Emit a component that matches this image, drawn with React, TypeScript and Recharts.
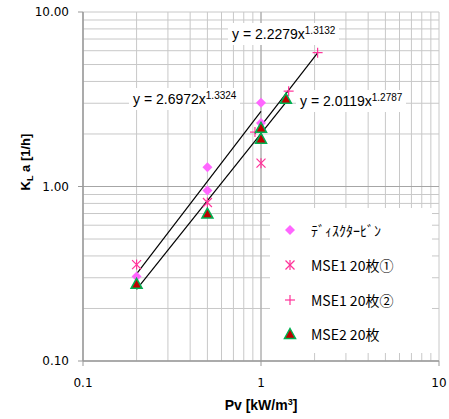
import React from 'react';
import {
  ScatterChart,
  Scatter,
  XAxis,
  YAxis,
  CartesianGrid,
  Legend,
  ReferenceLine,
} from 'recharts';

// tick values (log axes with minor gridlines)
const logTicks = [0.1, 0.2, 0.3, 0.4, 0.5, 0.6, 0.7, 0.8, 0.9, 1, 2, 3, 4, 5, 6, 7, 8, 9, 10];
const xTickLabels: Record<number, string> = { 0.1: '0.1', 1: '1', 10: '10' };
const yTickLabels: Record<number, string> = { 0.1: '0.10', 1: '1.00', 10: '10.00' };

// series values
const discX = [0.2, 0.5, 0.5, 1.0, 1.0];
const discY = [0.305, 1.29, 0.95, 3.02, 2.31];
const mse1aX = [0.2, 0.5, 1.0];
const mse1aY = [0.357, 0.81, 1.36];
const mse1bX = [0.925, 1.43, 2.08];
const mse1bY = [2.05, 3.52, 5.85];
const mse2X = [0.2, 0.5, 1.0, 1.0, 1.38];
const mse2Y = [0.277, 0.7, 2.17, 1.88, 3.18];

// power trendlines y = a x^b shown on the chart
const trendA = [2.6972, 2.2279, 2.0119];
const trendB = [1.3324, 1.3132, 1.2787];
const trendFrom = [0.2, 0.925, 0.2];
const trendTo = [1.0, 2.08, 1.38];

const toPoints = (xs: number[], ys: number[]) => xs.map((x, i) => ({ x, y: ys[i] }));

const trendData = trendA.map((a, i) =>
  [trendFrom[i], trendTo[i]].map((x) => ({ x, y: a * Math.pow(x, trendB[i]) }))
);

const DISC = '#FF66FF';
const PINK = '#FF3399';

const Diamond = ({ cx, cy }: any) => (
  <polygon points={`${cx},${cy - 5} ${cx + 5},${cy} ${cx},${cy + 5} ${cx - 5},${cy}`} fill={DISC} />
);
const Star = ({ cx, cy }: any) => (
  <g stroke={PINK} strokeWidth={1.2}>
    <line x1={cx - 4.5} y1={cy - 4.5} x2={cx + 4.5} y2={cy + 4.5} />
    <line x1={cx - 4.5} y1={cy + 4.5} x2={cx + 4.5} y2={cy - 4.5} />
    <line x1={cx} y1={cy - 5} x2={cx} y2={cy + 5} />
  </g>
);
const Plus = ({ cx, cy }: any) => (
  <g stroke={PINK} strokeWidth={1.2}>
    <line x1={cx - 5} y1={cy} x2={cx + 5} y2={cy} />
    <line x1={cx} y1={cy - 5} x2={cx} y2={cy + 5} />
  </g>
);
const Triangle = ({ cx, cy }: any) => (
  <polygon
    points={`${cx},${cy - 5.5} ${cx + 5.5},${cy + 4.5} ${cx - 5.5},${cy + 4.5}`}
    fill="#C00000"
    stroke="#00B050"
    strokeWidth={1.5}
  />
);
const NoDot = () => <g />;

const legendItems = [
  { name: 'ﾃﾞｨｽｸﾀｰﾋﾞﾝ', Shape: Diamond },
  { name: 'MSE1 20枚①', Shape: Star },
  { name: 'MSE1 20枚②', Shape: Plus },
  { name: 'MSE2 20枚', Shape: Triangle },
];

const LegendBox = () => (
  <div style={{ background: '#fff', width: 162, height: 145, paddingTop: 5, boxSizing: 'border-box' }}>
    {legendItems.map(({ name, Shape }) => (
      <div key={name} style={{ display: 'flex', alignItems: 'center', height: 34.7 }}>
        <svg width={34} height={20} style={{ marginLeft: 3 }}>
          <Shape cx={17} cy={10} />
        </svg>
        <span
          style={{
            fontFamily: '"Noto Sans CJK JP", sans-serif',
            fontSize: 14,
            color: '#000',
            marginLeft: 4,
            whiteSpace: 'nowrap',
          }}
        >
          {name}
        </span>
      </div>
    ))}
  </div>
);

const XTick = ({ x, y, payload }: any) => {
  const label = xTickLabels[payload.value];
  if (!label) return <g />;
  return (
    <g>
      <line x1={x} x2={x} y1={y - 17} y2={y - 12} stroke="#999" />
      <text x={x} y={y} dy="0.71em" textAnchor="middle" fontSize={12} fill="#000" fontFamily="'DejaVu Sans', Verdana, sans-serif">
        {label}
      </text>
    </g>
  );
};

const YTick = ({ x, y, payload }: any) => {
  const label = yTickLabels[payload.value];
  if (!label) return <g />;
  return (
    <g>
      <line x1={x + 9} x2={x + 14} y1={y} y2={y} stroke="#999" />
      <text x={x} y={y} dy="0.355em" textAnchor="end" fontSize={12} fill="#000" fontFamily="'DejaVu Sans', Verdana, sans-serif">
        {label}
      </text>
    </g>
  );
};

const eqStyle: React.CSSProperties = {
  position: 'absolute',
  background: '#fff',
  fontFamily: '"Liberation Sans", Arial, sans-serif',
  fontSize: 14,
  lineHeight: '16px',
  padding: '3px 4px',
  whiteSpace: 'nowrap',
  color: '#000',
};

const Equation = ({ a, b, left, top }: { a: number; b: number; left: number; top: number }) => (
  <div style={{ ...eqStyle, left, top }}>
    y = {a.toFixed(4)}x<sup style={{ fontSize: 10, verticalAlign: 'top', lineHeight: '10px' }}>{b.toFixed(4)}</sup>
  </div>
);

export default function App() {
  return (
    <div style={{ position: 'absolute', left: 0, top: 0, width: 449, height: 419, background: '#fff' }}>
      <ScatterChart width={449} height={419} margin={{ top: 12, right: 10, bottom: 0, left: 0 }}>
        <CartesianGrid stroke="#C8C8C8" strokeWidth={1} />
        <XAxis
          type="number"
          dataKey="x"
          scale="log"
          domain={[0.1, 10]}
          ticks={logTicks}
          interval={0}
          allowDataOverflow
          height={58}
          tickSize={5}
          tickMargin={12}
          tickLine={false}
          tick={<XTick />}
          axisLine={{ stroke: '#999', strokeWidth: 1.5 }}
          label={{
            content: () => (
              <text x={261} y={410} textAnchor="middle" fontSize={14} fontWeight="bold" fontFamily="'Liberation Sans', Arial, sans-serif">
                Pv [kW/m<tspan dy={-5} fontSize={9}>3</tspan><tspan dy={5}>]</tspan>
              </text>
            ),
          }}
        />
        <YAxis
          type="number"
          dataKey="y"
          scale="log"
          domain={[0.1, 10]}
          ticks={logTicks}
          interval={0}
          allowDataOverflow
          width={83}
          tickSize={5}
          tickMargin={9}
          tickLine={false}
          tick={<YTick />}
          axisLine={{ stroke: '#999', strokeWidth: 1.5 }}
          label={{
            content: () => (
              <text
                x={0}
                y={0}
                transform="translate(30,162) rotate(-90)"
                textAnchor="middle"
                fontSize={13}
                fontWeight="bold"
                fontFamily="'Liberation Sans', Arial, sans-serif"
              >
                K<tspan dy={3} fontSize={9}>L</tspan><tspan dy={-3}> a [1/h]</tspan>
              </text>
            ),
          }}
        />
        <ReferenceLine x={1} stroke="#A6A6A6" />
        <ReferenceLine y={1} stroke="#A6A6A6" />
        <Legend
          layout="vertical"
          align="center"
          verticalAlign="middle"
          content={<LegendBox />}
          wrapperStyle={{ left: 270, top: 208, width: 162, height: 145 }}
        />
        {trendData.map((d, i) => (
          <Scatter
            key={`trend-${i}`}
            data={d}
            line={{ stroke: '#000', strokeWidth: 1.2 }}
            shape={NoDot}
            legendType="none"
            isAnimationActive={false}
          />
        ))}
        <Scatter name="ﾃﾞｨｽｸﾀｰﾋﾞﾝ" data={toPoints(discX, discY)} shape={Diamond} isAnimationActive={false} />
        <Scatter name="MSE1 20枚①" data={toPoints(mse1aX, mse1aY)} shape={Star} isAnimationActive={false} />
        <Scatter name="MSE1 20枚②" data={toPoints(mse1bX, mse1bY)} shape={Plus} isAnimationActive={false} />
        <Scatter name="MSE2 20枚" data={toPoints(mse2X, mse2Y)} shape={Triangle} isAnimationActive={false} />
      </ScatterChart>
      <Equation a={trendA[1]} b={trendB[1]} left={228} top={23} />
      <Equation a={trendA[0]} b={trendB[0]} left={129} top={88} />
      <Equation a={trendA[2]} b={trendB[2]} left={296} top={90} />
    </div>
  );
}
